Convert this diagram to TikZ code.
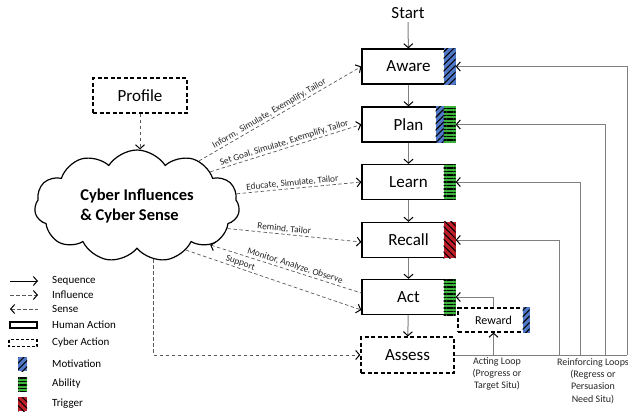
\documentclass[tikz,border=0pt]{standalone}
\usepackage{fontspec}
\setmainfont{Carlito}
\usetikzlibrary{arrows.meta,shapes.symbols,patterns.meta,positioning}
\definecolor{motivblue}{RGB}{80,120,200}
\definecolor{abilgreen}{RGB}{60,180,60}
\definecolor{trigred}{RGB}{190,30,40}
\tikzset{
	vtip/.tip={Straight Barb[length=4pt,width=9pt,line width=1pt,color=black]},
	human/.style={draw, line width=1.3pt, minimum width=93pt, minimum height=35pt, font=\fontsize{17}{17}\selectfont},
	cyber/.style={human, dash pattern=on 4pt off 2.5pt},
	seq/.style={gray, line width=1pt, -{vtip}},
	infl/.style={black!65, line width=0.7pt, dash pattern=on 3.5pt off 2.5pt, -{vtip}},
	sense/.style={infl, {vtip}-},
	loopline/.style={gray, line width=0.8pt},
	lbl/.style={font=\fontsize{9.3}{10}\selectfont, text=black!85, inner sep=1.2pt},
	legend/.style={font=\fontsize{11}{11}\selectfont, anchor=west, inner sep=0pt},
	motiv/.style={fill=motivblue, postaction={pattern={Lines[angle=45,distance=4.5pt,line width=1.1pt]}}},
	abil/.style={fill=abilgreen, postaction={pattern={Lines[angle=0,distance=3.5pt,line width=1.1pt]}}},
	trig/.style={fill=trigred, postaction={pattern={Lines[angle=-45,distance=4.5pt,line width=1.1pt]}}},
}
\begin{document}
\begin{tikzpicture}[x=1pt, y=-1pt]
	\useasboundingbox (0,0) rectangle (628,413);
	% steps
	\node[font=\fontsize{17}{17}\selectfont] (start) at (408,13) {Start};
	\node[human] (aware) at (408.5,66.5) {Aware};
	\node[human] (plan) at (408.5,124.5) {Plan};
	\node[human] (learn) at (408.5,182) {Learn};
	\node[human] (recall) at (408.5,240) {Recall};
	\node[human] (act) at (408.5,297) {Act};
	\node[cyber, minimum height=36pt] (assess) at (407.5,355) {Assess};
	\node[cyber, minimum width=71pt, minimum height=24pt, line width=1.2pt, font=\fontsize{12}{12}\selectfont] (reward) at (493.5,320) {Reward\hspace{8pt}};
	\node[cyber, minimum width=94pt] (profile) at (140,95.5) {Profile};
	\node[cloud, draw, line width=1.2pt, cloud puffs=11, cloud puff arc=115, aspect=1.9,
		minimum width=205pt, minimum height=112pt, align=left,
		font=\fontsize{16.5}{20}\selectfont\bfseries] (cyber) at (137,206) {Cyber Influences\\\& Cyber Sense};

	% strips
	\fill[motiv] ([xshift=-12pt]aware.north east) rectangle (aware.south east);
	\fill[motiv] ([xshift=-20pt]plan.north east) rectangle ([xshift=-12pt]plan.south east);
	\fill[abil] ([xshift=-12pt]plan.north east) rectangle (plan.south east);
	\fill[abil] ([xshift=-12pt]learn.north east) rectangle (learn.south east);
	\fill[trig] ([xshift=-12pt]recall.north east) rectangle (recall.south east);
	\fill[abil] ([xshift=-12pt]act.north east) rectangle (act.south east);
	\fill[motiv] ([xshift=-7pt]reward.north east) rectangle (reward.south east);

	% sequence
	\draw[seq] (start) -- (aware);
	\draw[seq] (aware) -- (plan);
	\draw[seq] (plan) -- (learn);
	\draw[seq] (learn) -- (recall);
	\draw[seq] (recall) -- (act);
	\draw[seq] (act) -- (assess);

	% influences
	\draw[infl] (profile.south) -- (profile.south |- cyber.north);
	\draw[infl] (cyber.36) -- node[lbl, sloped, above, pos=0.45] {Inform,\, Simulate, Exemplify, Tailor} (aware.west);
	\draw[infl] (cyber.25) -- node[lbl, sloped, above, pos=0.5] {Set Goal, Simulate, Exemplify, Tailor} (plan.west);
	\draw[infl] (cyber.7) -- node[lbl, sloped, above, pos=0.45] {Educate, Simulate, Tailor} (learn.west);
	\draw[infl] (cyber.-14) -- node[lbl, sloped, above, pos=0.42] {Remind, Tailor} ([yshift=-2pt]recall.west);
	\draw[sense] (cyber.-28) -- node[lbl, sloped, above, pos=0.55] {Monitor, Analyze, Observe} ([yshift=4pt]act.west);
	\draw[infl] (cyber.-42) -- node[lbl, sloped, above, pos=0.3] {Support} ([yshift=-13pt]act.west);
	\draw[infl] (cyber.-73) |- (assess.west);

	% loops
	\coordinate (rcorner) at (627,355);
	\draw[loopline] (assess.east) -- (rcorner);
	\draw[loopline, -{vtip}] (rcorner) |- (aware.east);
	\draw[loopline, -{vtip}] (605,355) |- (plan.east);
	\draw[loopline, -{vtip}] (580,355) |- (learn.east);
	\draw[loopline, -{vtip}] (559,355) |- (recall.east);
	\draw[loopline, -{vtip}] (reward.south |- assess.east) -- (reward.south);
	\draw[loopline, -{vtip}] (reward.north) |- (act.east);
	\node[lbl, align=center, font=\fontsize{10}{12}\selectfont] (actloop) at (497,374) {Acting Loop\\(Progress or\\Target Situ)};
	\node[lbl, align=center, font=\fontsize{10}{12.3}\selectfont] (reinloop) at (593,381) {Reinforcing Loops\\(Regress or\\Persuasion\\Need Situ)};

	% legend
	\node[legend] (lseq) at (52,281) {Sequence};
	\node[legend] (linfl) at (52,295) {Influence};
	\node[legend] (lsense) at (52,309) {Sense};
	\node[legend] (lhuman) at (52,325) {Human Action};
	\node[legend] (lcyber) at (52,343) {Cyber Action};
	\node[legend] (lmotiv) at (52,364) {Motivation};
	\node[legend] (labil) at (52,384) {Ability};
	\node[legend] (ltrig) at (52,404) {Trigger};
	\draw[seq, black] ([xshift=-42pt]lseq.west) -- ([xshift=-14pt]lseq.west);
	\draw[infl] ([xshift=-42pt]linfl.west) -- ([xshift=-14pt]linfl.west);
	\draw[sense] ([xshift=-42pt]lsense.west) -- ([xshift=-14pt]lsense.west);
	\draw[line width=1.3pt] ([xshift=-42pt,yshift=3pt]lhuman.west) rectangle ([xshift=-15pt,yshift=-3pt]lhuman.west);
	\draw[line width=1.3pt, dash pattern=on 3pt off 2pt] ([xshift=-43pt,yshift=3.5pt]lcyber.west) rectangle ([xshift=-15pt,yshift=-3.5pt]lcyber.west);
	\fill[motiv] ([xshift=-34pt,yshift=7pt]lmotiv.west) rectangle ([xshift=-25pt,yshift=-7pt]lmotiv.west);
	\fill[abil] ([xshift=-34pt,yshift=7pt]labil.west) rectangle ([xshift=-25pt,yshift=-7pt]labil.west);
	\fill[trig] ([xshift=-34pt,yshift=7pt]ltrig.west) rectangle ([xshift=-25pt,yshift=-7pt]ltrig.west);
\end{tikzpicture}
\end{document}
